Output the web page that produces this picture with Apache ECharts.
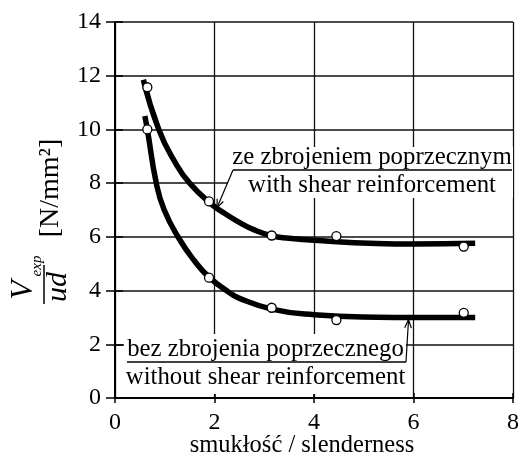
<!DOCTYPE html>
<html><head><meta charset="utf-8">
<script src="https://cdn.jsdelivr.net/npm/echarts@6/dist/echarts.min.js"></script>
<style>html,body{margin:0;padding:0;background:#fff}#c{width:522px;height:457px}</style>
</head><body><div id="c"></div>
<script>
// ---- data ----
const xTicks = [0, 2, 4, 6, 8];
const yTicks = [0, 2, 4, 6, 8, 10, 12, 14];
const withPointsX = [0.65, 1.89, 3.15, 4.45, 7.01];
const withPointsY = [11.57, 7.32, 6.05, 6.03, 5.64];
const withoutPointsX = [0.65, 1.89, 3.15, 4.45, 7.01];
const withoutPointsY = [10.0, 4.48, 3.36, 2.9, 3.17];
const withCurveX = [0.57, 0.88, 1.2, 1.5, 1.95, 2.2, 2.48, 2.8, 3.15, 3.5, 4.0, 5.26, 6.0, 7.24];
const withCurveY = [11.85, 10.0, 8.8, 8.0, 7.2, 6.88, 6.56, 6.26, 6.04, 5.95, 5.87, 5.75, 5.73, 5.76];
const withoutCurveX = [0.6, 0.65, 0.83, 0.99, 1.29, 1.6, 1.89, 2.28, 2.48, 3.15, 4.0, 5.26, 6.0, 7.24];
const withoutCurveY = [10.5, 10.0, 8.0, 7.0, 5.93, 5.1, 4.5, 3.95, 3.73, 3.31, 3.1, 3.01, 3.0, 3.0];
const labelWithPl = 'ze zbrojeniem poprzecznym';
const labelWithEn = 'with shear reinforcement';
const labelWithoutPl = 'bez zbrojenia poprzecznego';
const labelWithoutEn = 'without shear reinforcement';
const xName = 'smukłość / slenderness';
// annotation arrow tips, in data coordinates
const tipWith = [2.05, 7.08];
const tipWithout = [5.9, 2.92];

const zip = (xs, ys) => xs.map((x, i) => [x, ys[i]]);
const FONT = "'Liberation Serif', 'Times New Roman', serif";
const chart = echarts.init(document.getElementById('c'), null, {renderer: 'canvas'});

const baseX = {type: 'value', min: xTicks[0], max: xTicks[xTicks.length - 1], interval: 2, gridIndex: 0};
const baseY = {type: 'value', min: yTicks[0], max: yTicks[yTicks.length - 1], interval: 2, gridIndex: 0};

chart.setOption({
  animation: false,
  backgroundColor: '#fff',
  grid: {left: 115, right: 5, top: 22, bottom: 59, containLabel: false},
  xAxis: [
    Object.assign({}, baseX, {
      position: 'bottom',
      axisLine: {show: true, lineStyle: {color: '#000', width: 2}},
      axisTick: {show: true, inside: false, length: 5, lineStyle: {color: '#000', width: 1.5}},
      axisLabel: {show: true, color: '#000', fontFamily: FONT, fontSize: 24, margin: 13, hideOverlap: false},
      splitLine: {show: true, lineStyle: {color: '#111', width: 1.3}},
      showMinLabel: true, showMaxLabel: true
    }),
    Object.assign({}, baseX, {
      position: 'bottom',
      axisLine: {show: false},
      axisTick: {show: true, inside: true, length: 5, lineStyle: {color: '#000', width: 1.5}},
      axisLabel: {show: false},
      splitLine: {show: false}
    })
  ],
  yAxis: [
    Object.assign({}, baseY, {
      position: 'left',
      axisLine: {show: true, lineStyle: {color: '#000', width: 2}},
      axisTick: {show: true, inside: false, length: 9, lineStyle: {color: '#000', width: 1.5}},
      axisLabel: {show: true, color: '#000', fontFamily: FONT, fontSize: 24, margin: 14, hideOverlap: false},
      splitLine: {show: true, lineStyle: {color: '#111', width: 1.5}},
      showMinLabel: true, showMaxLabel: true
    }),
    Object.assign({}, baseY, {
      position: 'left',
      axisLine: {show: false},
      axisTick: {show: true, inside: true, length: 8, lineStyle: {color: '#000', width: 1.5}},
      axisLabel: {show: false},
      splitLine: {show: false}
    })
  ],
  series: [
    {type: 'line', name: 'with curve', data: zip(withCurveX, withCurveY), smooth: 0.5, showSymbol: false,
      lineStyle: {color: '#000', width: 5.5}, z: 3, silent: true},
    {type: 'line', name: 'without curve', data: zip(withoutCurveX, withoutCurveY), smooth: 0.5, showSymbol: false,
      lineStyle: {color: '#000', width: 5.5}, z: 3, silent: true},
    {type: 'scatter', name: 'with', data: zip(withPointsX, withPointsY), symbol: 'circle', symbolSize: 9,
      itemStyle: {color: '#fff', borderColor: '#000', borderWidth: 1.3, opacity: 1}, z: 5},
    {type: 'scatter', name: 'without', data: zip(withoutPointsX, withoutPointsY), symbol: 'circle', symbolSize: 9,
      itemStyle: {color: '#fff', borderColor: '#000', borderWidth: 1.3, opacity: 1}, z: 5}
  ]
});

function arrow(from, to, z) {
  const dx = to[0] - from[0], dy = to[1] - from[1];
  const len = Math.hypot(dx, dy), ux = dx / len, uy = dy / len;
  const L = 9, a = 0.38;
  const p1 = [to[0] - L * (ux * Math.cos(a) - uy * Math.sin(a)), to[1] - L * (uy * Math.cos(a) + ux * Math.sin(a))];
  const p2 = [to[0] - L * (ux * Math.cos(a) + uy * Math.sin(a)), to[1] - L * (uy * Math.cos(a) - ux * Math.sin(a))];
  return [
    {type: 'polyline', z: z, shape: {points: [from, to]}, style: {stroke: '#000', lineWidth: 1.2, fill: null}},
    {type: 'polyline', z: z, shape: {points: [p1, to, p2]}, style: {stroke: '#000', lineWidth: 1.2, fill: null}}
  ];
}

const tW = chart.convertToPixel({gridIndex: 0}, tipWith);
const tWo = chart.convertToPixel({gridIndex: 0}, tipWithout);
const txt = (s, x, y, extra) => Object.assign({type: 'text', z: 10, x: x, y: y,
  style: Object.assign({text: s, fontFamily: FONT, fontSize: 24.8, fill: '#000', align: 'center', verticalAlign: 'middle'}, extra || {})});

const g = [
  // white label boxes
  {type: 'rect', z: 1, shape: {x: 228, y: 147, width: 285, height: 51}, style: {fill: '#fff'}},
  {type: 'rect', z: 1, shape: {x: 124, y: 334, width: 282, height: 60}, style: {fill: '#fff'}},
  txt(labelWithPl, 372, 157),
  txt(labelWithEn, 372, 185),
  {type: 'line', z: 10, shape: {x1: 233, y1: 170, x2: 512, y2: 170}, style: {stroke: '#000', lineWidth: 1.3}},
  txt(labelWithoutPl, 265.5, 349),
  txt(labelWithoutEn, 265.5, 377),
  {type: 'line', z: 10, shape: {x1: 127, y1: 362, x2: 406, y2: 362}, style: {stroke: '#000', lineWidth: 1.3}},
  txt(xName, 302, 446, {fontSize: 24.5}),
  // y-axis title (rotated)
  txt('V', 24, 290, {fontSize: 31, fontStyle: 'italic'}),
  txt('exp', 37, 266, {fontSize: 15, fontStyle: 'italic'}),
  txt('ud', 58, 287, {fontSize: 30, fontStyle: 'italic'}),
  {type: 'line', z: 10, shape: {x1: 44, y1: 265, x2: 44, y2: 304}, style: {stroke: '#000', lineWidth: 1.5}},
  txt('[N/mm²]', 51, 188, {fontSize: 28})
].concat(arrow([233, 170], tW, 10), arrow([406, 362], tWo, 10));

g.forEach(e => { if (e.type === 'text' && ['V', 'exp', 'ud', '[N/mm²]'].includes(e.style.text)) e.rotation = Math.PI / 2; });
chart.setOption({graphic: g});
</script>
</body></html>
